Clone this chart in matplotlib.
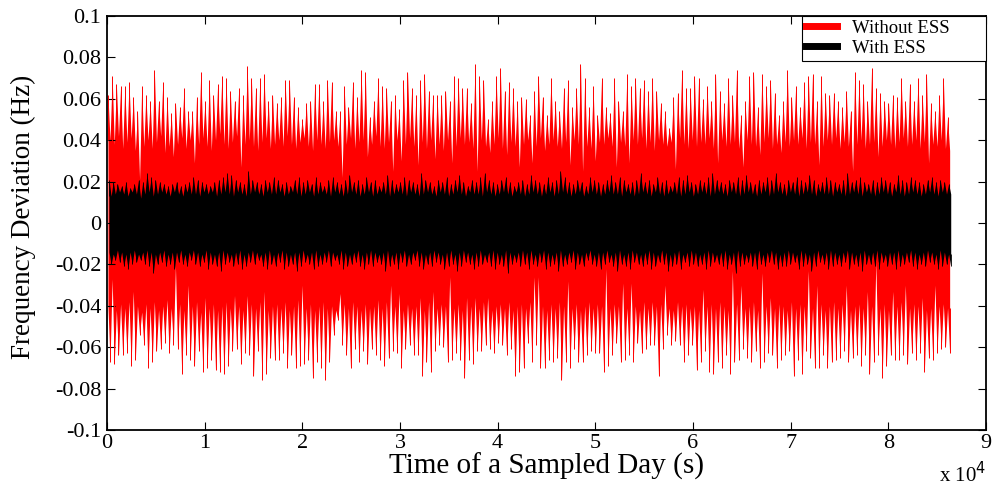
import numpy as np
import matplotlib
matplotlib.use('Agg')
import matplotlib.pyplot as plt
from matplotlib.lines import Line2D

# bins of 432 s over one day (86400 s); all values in mHz
# *_up / *_lo : spike peaks above / below zero in each bin
# *_vup / *_vlo : depth of the solid band (valley between spikes)
bin_s = 432

red_up = [62, 71, 67, 66, 66, 68, 61, 54, 66, 62, 59, 74, 59, 68, 61, 53, 58, 56, 65, 54,
          54, 61, 73, 59, 69, 62, 67, 71, 70, 64, 59, 65, 62, 76, 70, 65, 70, 72, 59, 62,
          58, 61, 69, 69, 61, 56, 50, 58, 59, 67, 67, 59, 69,
          68, 54, 54, 66, 56, 68, 61, 74, 73, 51, 59, 70, 66, 65, 59, 62, 55, 69, 73, 65,
          62, 69, 72, 64, 62, 62, 62, 64, 59, 71, 70, 65, 65, 58, 77, 71, 69, 50, 59, 71,
          75, 64, 68, 65, 59, 61, 60, 52, 64, 71, 61, 52, 70, 59, 54, 65, 69, 56, 65, 77,
          70, 56, 66, 52, 70, 56, 53, 70, 59, 54, 72, 66, 70, 65, 69, 64, 70, 64,
          58, 54, 46, 61, 63, 74, 65, 65, 71, 70, 60, 66, 59, 72, 64, 58, 70, 62, 74, 52,
          59, 71, 73, 56, 72, 66, 69, 63, 52, 59, 74, 61, 66, 56, 68, 71, 72, 59, 71, 63,
          62, 63, 59, 56, 64, 54, 73, 69, 67, 59, 75, 65, 63, 59, 58, 62, 61, 70, 59, 67,
          59, 70, 62, 72, 58, 54, 62, 70, 51]

red_lo = [67, 68, 64, 64, 63, 69, 66, 54, 59, 70, 67, 62, 61, 58, 63, 59, 61, 73, 64, 66,
          69, 62, 72, 70, 66, 71, 72, 73, 69, 62, 61, 68, 63, 64, 74, 62, 76, 73, 65, 66,
          66, 63, 70, 64, 70, 69, 68, 66, 75, 67, 70, 76, 67,
          54, 47, 59, 64, 70, 61, 67, 62, 68, 61, 64, 66, 69, 65, 62, 63, 70, 61, 59, 64,
          64, 74, 67, 72, 62, 59, 60, 67, 66, 63, 66, 75, 66, 68, 62, 62, 59, 61, 63, 58,
          59, 64, 61, 74, 72, 70, 58, 67, 59, 70, 70, 66, 67, 65, 76, 67, 70, 61, 67, 67,
          64, 62, 63, 63, 72, 69, 64, 58, 67, 66, 64, 67, 58, 63, 61, 59, 59, 74,
          61, 54, 59, 57, 59, 67, 64, 59, 71, 67, 62, 72, 73, 67, 70, 64, 73, 67, 66, 61,
          65, 67, 62, 70, 67, 63, 64, 70, 66, 64, 62, 74, 66, 73, 62, 65, 70, 70, 64, 70,
          67, 66, 65, 62, 67, 65, 64, 69, 64, 73, 67, 64, 75, 69, 64, 66, 66, 64, 68, 63,
          66, 63, 72, 65, 66, 63, 61, 60, 63]

red_vup = [40, 38, 42, 36, 39, 41, 35, 21, 37, 40, 36, 39, 42, 34, 37, 32, 38, 41, 36, 40,
           29, 38, 41, 37, 35, 40, 43, 38, 36, 39, 42, 27, 38, 40, 37, 35, 39, 41, 36, 38,
           40, 37, 42, 38, 36, 39, 41, 37, 35, 40, 38, 36, 39, 40, 37, 22, 38, 41, 36, 39,
           40, 32, 38, 42, 37, 36, 39, 25, 40, 30, 38, 41, 37, 28, 39, 36, 40, 31, 38, 35,
           40, 29, 37, 41, 38, 39, 36, 25, 40, 37, 34, 38, 41, 36, 33, 39, 37, 27, 38, 40,
           29, 37, 41, 35, 38, 40, 37, 36, 39, 28, 40, 38, 25, 37, 36, 30, 39, 38, 41, 37,
           27, 39, 37, 29, 40, 38, 41, 36, 39, 35, 40, 38, 37, 39, 26, 41, 38, 36, 40, 37,
           39, 38, 41, 36, 29, 40, 37, 38, 39, 36, 27, 40, 38, 37, 33, 39, 41, 36, 38, 34,
           39, 37, 40, 38, 41, 36, 39, 38, 28, 37, 40, 38, 41, 36, 39, 37, 25, 38, 40, 36,
           38, 39, 32, 37, 40, 38, 36, 39, 41, 37, 38, 40, 36, 39, 29, 38, 37, 40, 36, 35]

red_vlo = [40, 27, 42, 39, 41, 38, 33, 40, 43, 39, 41, 38, 42, 40, 37, 41, 21, 39, 42, 30,
           40, 38, 43, 36, 41, 39, 42, 40, 38, 41, 35, 40, 42, 35, 39, 41, 38, 33, 42, 40,
           39, 41, 38, 42, 40, 37, 30, 41, 39, 42, 40, 38, 41, 40, 42, 34, 39, 41, 38, 40,
           42, 39, 41, 40, 37, 41, 38, 30, 40, 34, 42, 39, 41, 40, 36, 42, 38, 33, 41, 39,
           40, 26, 41, 39, 42, 36, 40, 36, 41, 38, 36, 42, 40, 39, 41, 38, 42, 40, 39, 41,
           38, 26, 26, 40, 42, 39, 41, 38, 40, 28, 41, 39, 42, 40, 38, 41, 39, 40, 22, 41,
           39, 40, 29, 41, 29, 40, 42, 38, 41, 38, 40, 39, 30, 41, 42, 38, 40, 39, 41, 40,
           42, 32, 40, 39, 41, 38, 40, 42, 23, 39, 30, 41, 40, 38, 42, 24, 40, 36, 41, 39,
           40, 42, 38, 41, 39, 40, 23, 41, 30, 39, 42, 40, 38, 41, 39, 30, 42, 40, 39, 41,
           33, 40, 19, 41, 39, 42, 33, 40, 38, 30, 41, 39, 40, 36, 42, 41, 30, 40, 39, 41]

black_up = [21, 20, 19, 18, 20, 17, 19, 21, 20, 24, 22, 21, 20, 19, 18, 19, 20, 18, 19, 20,
            22, 21, 20, 19, 18, 20, 21, 22, 24, 23, 21, 20, 19, 25, 21, 20, 19, 21, 20, 22,
            21, 19, 20, 18, 21, 22, 20, 21, 19, 22, 20, 18, 21, 22, 20, 19, 21, 23, 20, 21,
            19, 22, 20, 21, 18, 20, 23, 21, 19, 20, 22, 21, 20, 19, 24, 21, 20, 18, 21, 20,
            22, 19, 21, 23, 20, 18, 21, 20, 22, 24, 21, 20, 19, 21, 22, 20, 18, 20, 21, 19,
            23, 21, 20, 19, 22, 20, 21, 25, 22, 20, 19, 21, 20, 18, 22, 21, 20, 19, 21, 23,
            20, 22, 21, 19, 20, 21, 24, 20, 21, 19, 22, 20, 21, 18, 20, 22, 21, 23, 20, 19,
            21, 20, 22, 24, 21, 20, 19, 21, 20, 22, 21, 23, 20, 19, 21, 20, 22, 21, 24, 20,
            19, 21, 20, 22, 21, 20, 23, 21, 19, 20, 22, 21, 20, 19, 21, 24, 20, 21, 22, 20,
            19, 21, 20, 22, 21, 20, 19, 23, 21, 20, 22, 21, 20, 19, 21, 22, 20, 21, 20, 19]

black_lo = [20, 18, 19, 21, 22, 20, 19, 18, 20, 21, 24, 20, 19, 21, 20, 22, 19, 20, 21, 18,
            20, 21, 19, 22, 20, 21, 23, 20, 19, 21, 20, 22, 21, 19, 20, 18, 21, 22, 20, 21,
            19, 22, 21, 20, 23, 21, 19, 20, 22, 21, 20, 19, 21, 18, 20, 22, 21, 20, 19, 21,
            22, 20, 21, 19, 20, 23, 21, 20, 22, 19, 21, 20, 18, 21, 22, 20, 21, 19, 20, 22,
            21, 20, 23, 21, 19, 20, 22, 21, 20, 19, 21, 22, 20, 21, 24, 20, 19, 21, 20, 22,
            20, 21, 19, 22, 21, 20, 23, 21, 20, 19, 22, 20, 21, 18, 20, 21, 22, 20, 19, 21,
            23, 20, 21, 22, 19, 20, 21, 20, 22, 21, 19, 20, 23, 21, 20, 22, 19, 21, 20, 21,
            20, 22, 21, 19, 20, 21, 22, 20, 24, 21, 20, 19, 21, 22, 20, 21, 19, 20, 22, 21,
            21, 20, 19, 22, 21, 20, 23, 21, 19, 20, 22, 21, 20, 21, 19, 22, 20, 21, 23, 20,
            20, 21, 22, 19, 21, 20, 22, 21, 20, 19, 21, 22, 20, 21, 19, 20, 22, 21, 20, 21]

black_vup = [13, 14, 15, 14, 13, 15, 14, 12, 14, 15, 13, 14, 15, 14, 13, 15, 14, 13, 15, 14,
             14, 13, 15, 14, 15, 13, 14, 15, 14, 13, 15, 14, 13, 14, 15, 14, 13, 15, 14, 14,
             15, 13, 14, 15, 14, 13, 14, 15, 13, 14, 15, 14, 13, 15, 14, 13, 14, 15, 14, 13,
             14, 15, 13, 14, 15, 14, 13, 14, 15, 14, 13, 15, 14, 13, 14, 15, 14, 13, 15, 14,
             13, 14, 15, 14, 13, 15, 14, 14, 13, 15, 14, 13, 14, 15, 14, 13, 15, 14, 13, 14,
             15, 14, 13, 14, 15, 13, 14, 15, 14, 13, 14, 15, 13, 14, 15, 14, 13, 14, 15, 14,
             14, 13, 15, 14, 13, 14, 15, 14, 13, 15, 14, 13, 14, 15, 14, 13, 14, 15, 13, 14,
             15, 14, 13, 14, 15, 14, 13, 15, 14, 13, 14, 15, 14, 13, 14, 15, 13, 14, 15, 14,
             13, 15, 14, 13, 14, 15, 14, 13, 15, 14, 14, 13, 15, 14, 13, 14, 15, 14, 13, 15,
             14, 13, 14, 15, 14, 13, 15, 14, 13, 14, 15, 14, 13, 14, 15, 14, 13, 15, 14, 14]

black_vlo = [14, 15, 13, 14, 15, 14, 13, 15, 14, 13, 14, 15, 14, 13, 15, 14, 14, 13, 15, 14,
             13, 14, 15, 13, 14, 15, 14, 13, 14, 15, 14, 13, 15, 14, 13, 14, 15, 14, 13, 15,
             14, 13, 14, 15, 14, 14, 13, 15, 14, 13, 15, 14, 13, 14, 15, 13, 14, 15, 14, 13,
             15, 14, 13, 14, 15, 14, 13, 15, 14, 14, 13, 15, 14, 13, 14, 15, 14, 13, 14, 15,
             14, 13, 15, 14, 13, 14, 15, 14, 13, 15, 14, 13, 14, 15, 13, 14, 15, 14, 13, 14,
             13, 15, 14, 13, 14, 15, 14, 13, 15, 14, 13, 14, 15, 14, 13, 15, 14, 14, 13, 15,
             14, 13, 15, 14, 13, 14, 15, 14, 13, 14, 15, 13, 14, 15, 14, 13, 15, 14, 13, 14,
             15, 14, 13, 14, 15, 14, 13, 15, 14, 13, 14, 15, 14, 14, 13, 15, 14, 13, 14, 15,
             14, 13, 14, 15, 13, 14, 15, 14, 13, 15, 14, 13, 14, 15, 14, 13, 14, 15, 14, 13,
             15, 14, 13, 14, 15, 14, 14, 13, 15, 14, 13, 14, 15, 14, 13, 14, 15, 13, 14, 15]

yticks = [-0.1, -0.08, -0.06, -0.04, -0.02, 0, 0.02, 0.04, 0.06, 0.08, 0.1]
ytick_labels = ['-0.1', '-0.08', '-0.06', '-0.04', '-0.02', '0', '0.02', '0.04', '0.06', '0.08', '0.1']
xticks = [0, 1, 2, 3, 4, 5, 6, 7, 8, 9]


def band(up, vup, lo, vlo, shift):
    # upper edge: peak at bin start, valley half a bin later
    # lower edge: valley at bin start, peak half a bin later
    n = len(up)
    t = np.empty(2 * n)
    hi = np.empty(2 * n)
    low = np.empty(2 * n)
    t[0::2] = np.arange(n) * bin_s + shift
    t[1::2] = np.arange(n) * bin_s + shift + bin_s / 2
    hi[0::2] = np.array(up) / 1000.0
    hi[1::2] = np.array(vup) / 1000.0
    low[0::2] = -np.array(vlo) / 1000.0
    low[1::2] = -np.array(lo) / 1000.0
    return t, low, hi


def spikes(ax, up, vup, lo, vlo, shift, color, lw):
    # thin strokes so each peak reads as a line, like the raw trace
    n = len(up)
    t0 = np.arange(n) * bin_s + shift
    ax.vlines(t0, np.array(vup) / 1000.0, np.array(up) / 1000.0, color=color, lw=lw)
    ax.vlines(t0 + bin_s / 2, -np.array(lo) / 1000.0, -np.array(vlo) / 1000.0,
              color=color, lw=lw)


plt.rcParams['font.family'] = ['Liberation Serif', 'DejaVu Serif']

fig = plt.figure(figsize=(9.94, 4.86), dpi=100)
ax = fig.add_axes([0.1076, 0.1152, 0.8843, 0.8519])

t, lo, hi = band(red_up, red_vup, red_lo, red_vlo, 100)
ax.fill_between(t, lo, hi, color='#ff0000', lw=0)
spikes(ax, red_up, red_vup, red_lo, red_vlo, 100, '#ff0000', 0.7)
t, lo, hi = band(black_up, black_vup, black_lo, black_vlo, 210)
ax.fill_between(t, lo, hi, color='black', lw=0)
spikes(ax, black_up, black_vup, black_lo, black_vlo, 210, 'black', 0.6)

ax.set_xlim(0, 90000)
ax.set_ylim(-0.1, 0.1)
ax.set_xticks([x * 1e4 for x in xticks])
ax.set_xticklabels([str(x) for x in xticks])
ax.set_yticks(yticks)
ax.set_yticklabels(ytick_labels)
ax.tick_params(direction='in', length=6, width=0.8, top=True, right=True,
               labelsize=16, pad=4)
ax.tick_params(axis='x', pad=3)
for s in ax.spines.values():
    s.set_linewidth(1.3)
    s.set_zorder(3)

ax.set_xlabel('Time of a Sampled Day (s)', fontsize=21, labelpad=0)
ax.set_ylabel('Frequency Deviation (Hz)', fontsize=19.5)
ax.yaxis.set_label_coords(-0.081, 0.514)
ax.text(1.0, -0.078, r'x 10$^4$', transform=ax.transAxes, ha='right', va='top',
        fontsize=15)

handles = [Line2D([], [], color='#ff0000', lw=5),
           Line2D([], [], color='black', lw=5)]
leg = ax.legend(handles, ['Without ESS', 'With ESS'], loc='upper right',
                bbox_to_anchor=(0.7907, 0.0, 0.2093, 1.0), mode='expand',
                borderaxespad=0, fontsize=13.5, handlelength=1.65,
                handletextpad=0.8, labelspacing=0.15, borderpad=0.2,
                fancybox=False, framealpha=1)
leg.get_frame().set_edgecolor('black')
leg.get_frame().set_linewidth(0.8)

fig.savefig('out.png', dpi=100)
